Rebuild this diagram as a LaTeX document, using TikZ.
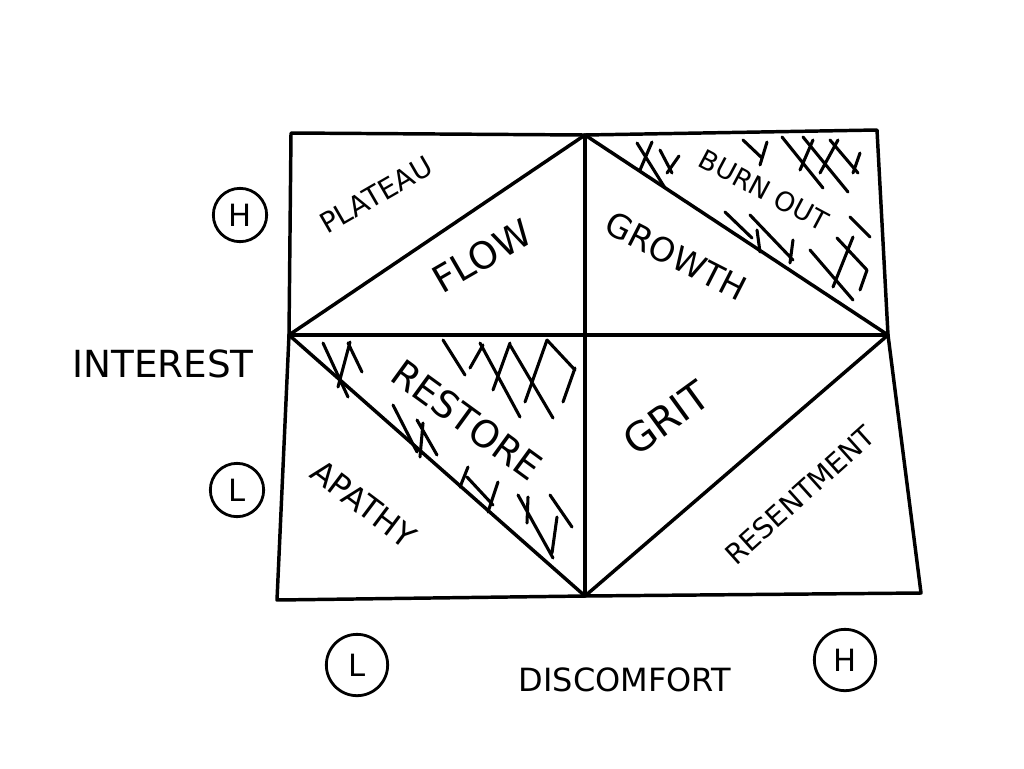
\documentclass[tikz,border=0pt]{standalone}
\usepackage{fontspec}
\setmainfont{DejaVu Sans}
\begin{document}
\begin{tikzpicture}[x=0.75pt,y=-0.75pt,line cap=round,line join=round,
  ink/.style={line width=2.6pt,black},
  hatch/.style={line width=2.3pt,black},
  lab/.style={inner sep=0pt,font=\fontsize{#1}{#1}\selectfont},
  circ/.style={circle,draw,line width=2.1pt,inner sep=0pt,minimum size=#1,font=\fontsize{23}{23}\selectfont}]
\useasboundingbox[fill=white] (0,0) rectangle (1024,768);
% frame points
\coordinate (TL) at (291,133);
\coordinate (TM) at (585,135);
\coordinate (TR) at (877,130);
\coordinate (MR) at (888,335);
\coordinate (BR) at (921,593);
\coordinate (BM) at (585,596);
\coordinate (BL) at (277,600);
\coordinate (ML) at (289,335);
\coordinate (C) at (585,335);
\draw[ink] (TL) -- (TM) -- (TR) -- (MR) -- (BR) -- (BM) -- (BL) -- (ML) -- cycle;
\draw[ink] (ML) -- (C) -- (MR);
\draw[ink] (TM) -- (C) -- (BM);
\draw[ink] (TM) -- (MR) -- (BM) -- (ML) -- cycle;
% labels
\node[lab=21,rotate=30] (plateau) at (376,195) {PLATEAU};
\node[lab=28,rotate=30] (flow) at (482,256) {FLOW};
\node[lab=25,rotate=-27] (growth) at (676,256) {GROWTH};
\node[lab=20,rotate=-28] (burnout) at (764,190) {BURN OUT};
\node[lab=28,rotate=-36] (restore) at (467,420) {RESTORE};
\node[lab=24,rotate=-37] (apathy) at (364,504) {APATHY};
\node[lab=30,rotate=36] (grit) at (666,418) {GRIT};
\node[lab=21,rotate=42] (resent) at (800,495) {RESENTMENT};
\node[lab=28] (interest) at (163,364) {INTEREST};
\node[lab=24] (discomfort) at (625,680) {DISCOMFORT};
\node[circ=40pt] (hy) at (240,215) {H};
\node[circ=40pt] (ly) at (237,490) {L};
\node[circ=46pt] (lx) at (357,665) {L};
\node[circ=46pt] (hx) at (845,660) {H};
% burnout hatching
\draw[hatch] (637,143)--(665,188) (652,142)--(640,170) (660,150)--(672,173) (679,156)--(667,173);
\draw[hatch] (743,140)--(762,158) (767,142)--(760,165);
\draw[hatch] (782,137)--(823,188) (803,137)--(848,192) (830,140)--(858,173)
  (813,140)--(800,170) (838,140)--(820,173) (860,153)--(853,173);
\draw[hatch] (725,212)--(752,238) (750,215)--(793,260) (757,230)--(760,252) (793,240)--(790,263);
\draw[hatch] (850,217)--(870,237) (853,237)--(833,287) (810,250)--(853,300) (837,238)--(867,270) (867,270)--(860,290);
% restore hatching
\draw[hatch] (323,343)--(348,397) (350,342)--(338,387) (348,343)--(362,372);
\draw[hatch] (443,340)--(465,375) (483,345)--(470,368) (480,343)--(520,417) (510,343)--(493,390)
  (510,345)--(553,418) (547,340)--(525,402) (547,340)--(575,370) (575,368)--(563,402);
\draw[hatch] (393,405)--(417,452) (423,423)--(420,457) (417,420)--(437,455);
\draw[hatch] (468,467)--(460,487) (467,477)--(493,505) (498,482)--(488,512);
\draw[hatch] (518,495)--(553,558) (528,497)--(527,523) (550,495)--(572,527) (557,517)--(552,553);
\end{tikzpicture}
\end{document}
